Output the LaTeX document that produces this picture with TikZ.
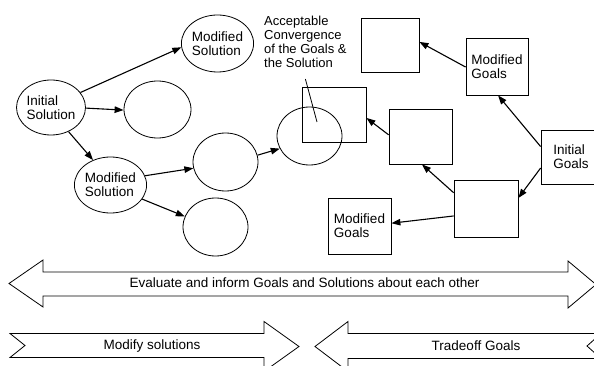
\documentclass[tikz,border=0pt]{standalone}
\usepackage{fontspec}
\setmainfont{Liberation Sans}
\usetikzlibrary{shapes.geometric,arrows.meta}
\begin{document}
\begin{tikzpicture}[x=1pt,y=-1pt,
  nodefont/.style={font=\fontsize{13.5}{14}\selectfont},
  sol/.style={ellipse,draw,line width=0.8pt,inner sep=0pt,align=left,nodefont},
  goal/.style={rectangle,draw,line width=0.8pt,inner sep=0pt,align=left,nodefont},
  arr/.style={line width=1.1pt,-{Triangle[length=9pt,width=6.5pt]}},
  big/.style={draw,line width=0.8pt,line join=miter},
  bigtext/.style={inner sep=0pt,nodefont}]
\useasboundingbox (0,0) rectangle (594,366);
\clip (0,0) rectangle (594,366);

% solutions (ellipses)
\node[sol,minimum width=65pt,minimum height=55pt] (isol) at (51,107.5) {Initial\\Solution};
\node[sol,minimum width=65pt,minimum height=57pt] (msol1) at (217.5,43.5) {Modified\\Solution};
\node[sol,minimum width=67pt,minimum height=57pt] (e1) at (157.5,109.5) {};
\node[sol,minimum width=65pt,minimum height=56pt] (msol2) at (110.5,185) {Modified\\Solution};
\node[sol,minimum width=65pt,minimum height=58pt] (e2) at (225.5,162) {};
\node[sol,minimum width=65pt,minimum height=58pt] (e3) at (215.5,227) {};
\node[sol,minimum width=65pt,minimum height=58pt] (convc) at (309.5,136) {};

% goals (squares)
\node[goal,minimum width=58pt,minimum height=54pt] (sqtop) at (390,45) {};
\node[goal,minimum width=62pt,minimum height=57pt] (mg1) at (497,66.5) {Modified\\Goals};
\node[goal,minimum width=64pt,minimum height=55pt] (convs) at (334,114.5) {};
\node[goal,minimum width=63pt,minimum height=55pt] (sqmid) at (420.5,136.5) {};
\node[goal,minimum width=60pt,minimum height=54pt] (ig) at (571,157) {Initial\\Goals};
\node[goal,minimum width=64pt,minimum height=57pt] (sqlow) at (486,208.5) {};
\node[goal,minimum width=63pt,minimum height=56pt] (mg2) at (359.5,226) {Modified\\Goals};

% label
\node[font=\fontsize{13}{14.2}\selectfont,align=left,inner sep=0pt,anchor=north west] (lbl) at (264,15.5)
  {Acceptable\\Convergence\\of the Goals \&\\the Solution};
\coordinate (ptrend) at (317,122);
\draw[line width=0.8pt] ([yshift=-11pt]lbl.south) -- (ptrend);

% solution arrows
\draw[arr] (isol.27) -- (msol1.186);
\draw[arr] (isol.-1) -- (e1.181);
\draw[arr] (isol.-54) -- (msol2.125);
\draw[arr] (msol2.15) -- (e2.191);
\draw[arr] (msol2.-24) -- (e3.161);
\draw[arr] (e2.12) -- (convc.203);

% goal arrows
\draw[arr] (mg1.181) -- (sqtop.6);
\draw[arr] (ig.161) -- (mg1.-88);
\draw[arr] (ig.200) -- (sqlow.18);
\draw[arr] (sqmid.177) -- (convs.-6);
\draw[arr] (sqlow.154) -- (sqmid.-87);
\draw[arr] (sqlow.193) -- (mg2.5);

% big double arrow
\draw[big] (9,283.5) -- (43,260) -- (43,272) -- (568,272) -- (568,261) -- (596,284.5)
  -- (568,308) -- (568,296) -- (43,296) -- (43,307) -- cycle;
\node[bigtext] (evaltext) at (304.5,283) {Evaluate and inform Goals and Solutions about each other};

% modify solutions arrow
\draw[big] (10,333.5) -- (264,333.5) -- (264,321.5) -- (299,346.5) -- (264,371.5)
  -- (264,357.5) -- (10,357.5) -- (25,345.5) -- cycle;
\node[bigtext] (modtext) at (152,346) {Modify solutions};

% tradeoff goals arrow
\draw[big] (315,346.5) -- (348,321.5) -- (348,333.5) -- (601,333.5) -- (587,346)
  -- (601,358.5) -- (348,358.5) -- (348,371.5) -- cycle;
\node[bigtext] (tradetext) at (476,346) {Tradeoff Goals};
\end{tikzpicture}
\end{document}
